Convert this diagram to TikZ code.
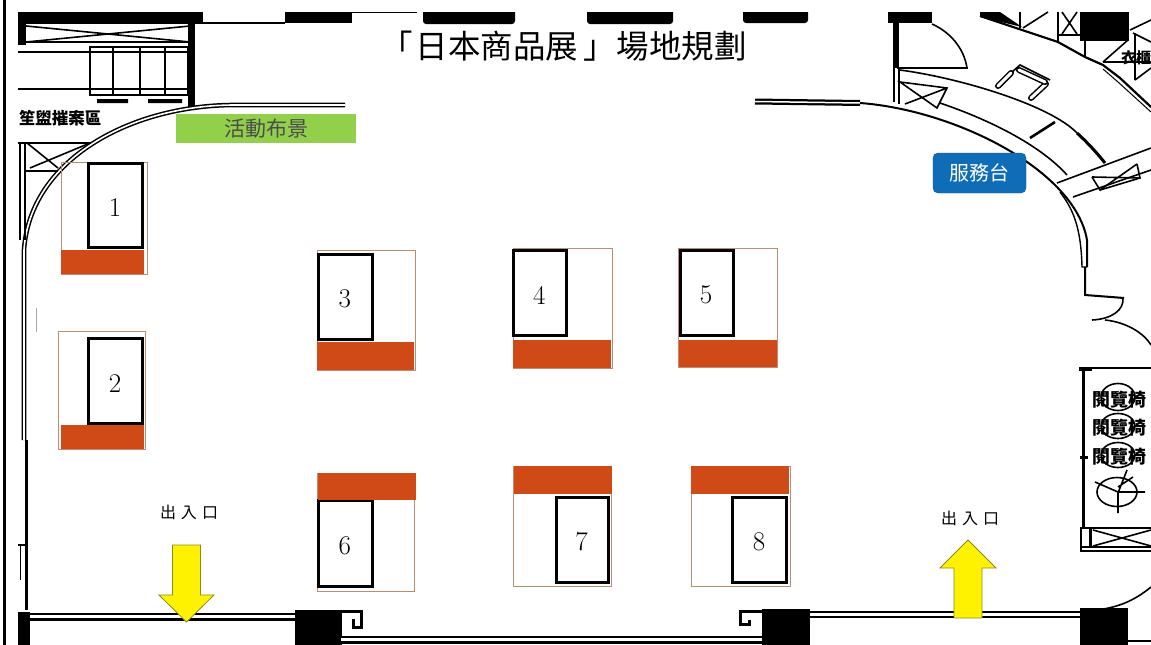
\documentclass[tikz,border=0pt]{standalone}
\usepackage{fontspec}
\newfontfamily\cjk{Noto Sans CJK TC}
\definecolor{boothred}{HTML}{D04A17}
\definecolor{boothline}{HTML}{C08B70}
\definecolor{stagegreen}{HTML}{92CF4B}
\definecolor{deskblue}{HTML}{0F6DB8}
\definecolor{arrowline}{HTML}{8C8C1E}
\tikzset{
  wall/.style={line width=1.6pt,black},
  thin wall/.style={line width=1pt,black},
  heavy/.style={line width=2.6pt,black},
  solid block/.style={fill=black,draw=none},
  booth/.style={draw=boothline,line width=0.9pt,fill=none},
  counter/.style={fill=boothred,draw=none},
  table box/.style={draw=black,line width=3pt},
  boothnum/.style={font=\fontsize{27}{27}\selectfont,inner sep=0pt,xshift=-0.5pt,yshift=-2.5pt},
  exitlabel/.style={font=\cjk\fontsize{16}{16}\selectfont,inner sep=0pt},
  exitarrow/.style={fill=yellow,draw=arrowline,line width=0.8pt},
  chairlabel/.style={font=\cjk\bfseries\fontsize{18}{18}\selectfont,inner sep=0pt},
}
\newcommand{\dbl}[1]{\draw[black,line width=4.6pt,line cap=butt] #1; \draw[white,line width=1.6pt,line cap=butt] #1;}
\newcommand{\dblw}[3]{\draw[black,line width=#1pt,line cap=butt] #3; \draw[white,line width=#2pt,line cap=butt] #3;}
\newcommand{\capsule}[1]{\draw[black,line width=6pt,line cap=round] #1; \draw[white,line width=3pt,line cap=round] #1;}
\newcommand{\booth}[9]{% outline x1 y1 x2 y2, table x1 y1 x2 y2, name
  \draw[booth] (#1,#2) rectangle (#3,#4);
  \draw[table box] (#5,#6) rectangle (#7,#8);
  \node[boothnum] (n#9) at ({(#5+#7)/2},{(#6+#8)/2}) {#9};
}
\begin{document}
\begin{tikzpicture}[x=1pt,y=-1pt]
\useasboundingbox (0,0) rectangle (1151,645);
\fill[white] (0,0) rectangle (1151,645);
% ---- top-left plan
\fill[solid block] (18,12) rectangle (203,24);
\fill[solid block] (18,12) rectangle (26,45);
\draw[wall] (26,42) -- (190,42);
\draw[wall] (26,26) -- (190,42) (26,42) -- (190,26);
\fill[solid block] (188,24) rectangle (195,108);
\draw[line width=2.2pt] (18,52) -- (190,52) (18,89) -- (190,89);
\draw[heavy] (90,47) rectangle (188,95) (113,47) -- (113,95) (140,47) -- (140,95) (165,47) -- (165,95);
\fill[solid block] (97,99) rectangle (128,103) (148,99) rectangle (182,103);
\draw[wall] (203,23) -- (285,23);
\fill[solid block] (285,12) rectangle (352,23);
\draw[thin wall] (352,12.5) -- (417,12.5);
\fill[solid block,rounded corners=3pt] (423,8) rectangle (515,24);
\fill[solid block,rounded corners=3pt] (587,8) rectangle (673,24);
\fill[solid block,rounded corners=3pt] (743,8) rectangle (808,23);
\fill[white] (0,0) rectangle (1151,12);
% ---- outer frame
\fill[black] (3,0) rectangle (6,645);
% ---- faded labels of the plan
\node[font=\cjk\bfseries\fontsize{16.5}{16.5}\selectfont,inner sep=0pt] (archive) at (60,118) {笙盥摧案區};
% ---- curved wall left
\dbl{(345,105) -- (235,105) .. controls (130,105) and (30,160) .. (24,250) -- (24,440)}
\draw[line width=3pt] (26.5,440) -- (26.5,610);
\draw[line width=2pt] (18,545) -- (27,545);
\draw[thin wall] (20.5,545) -- (20.5,580);
\draw[gray!70,line width=0.8pt] (36,308) -- (36,332);
% left X box
\draw[wall] (18,143) -- (91,143) (20,143) -- (20,240) (25,143) -- (25,240) (25,171) -- (58,171);
\draw[wall] (27,143) -- (58,168) (30,168) -- (90,143);
% ---- bottom walls
\dblw{8}{3}{(28,616.5) -- (295,616.5)}
\fill[solid block] (18,612) rectangle (30,645);
\fill[solid block] (295,610) rectangle (342,645);
\draw[line width=3pt] (341,611.5) -- (361.5,611.5) -- (361.5,627) -- (353,627) -- (353,619);
\dblw{8}{2.5}{(341,639.5) -- (762,639.5)}
\fill[solid block] (762,609) rectangle (810,645);
\draw[line width=3pt] (762,611.5) -- (740,611.5) -- (740,624.5) -- (749,624.5) -- (749,620);
\dblw{7}{3}{(810,614) -- (1080,614)}
\fill[solid block] (1080,608) rectangle (1128,645);
\draw[wall] (1128,641) -- (1151,641);
% ---- upper right: door, desk, curved walls
\fill[solid block] (888,12) rectangle (932,23);
\fill[solid block] (893,12) rectangle (899,68);
\draw[wall] (894,68) -- (894,102) (899,68) -- (899,104);
\draw[heavy] (897,68) -- (968,68);
\draw[wall] (932,24) .. controls (950,32) and (964,48) .. (967,68);
% main curved wall
\dblw{6}{1.5}{(755,101.5) -- (860,103)}
\draw[line width=2pt] (860,103) .. controls (955,110) and (1075,170) .. (1087,240) -- (1087,267);
\draw[line width=1.4pt] (1060,192) .. controls (1072,208) and (1081,225) .. (1082,267) -- (1087,267);
\draw[line width=2pt] (1085,267) -- (1085,295) -- (1124,298);
% desk lines
\draw[wall] (900,70) .. controls (960,78) and (1050,105) .. (1077,133);
\draw[wall] (940,103) .. controls (990,120) and (1040,145) .. (1067,175);
\draw[line width=3pt] (1077,133) .. controls (1087,142) and (1097,153) .. (1105,163);
\draw[line width=2.6pt] (1030,138) -- (1055,122);
% desk-left X box
\draw[wall] (900,82) -- (947,88) -- (937,108) -- cycle (947,88) -- (905,104);
% chair
\capsule{(998,86) -- (1011,73)}
\capsule{(1031,98) -- (1046,84)}
\capsule{(1019,70) -- (1045,82)}
\draw[wall] (1012,72) -- (1020,65) -- (1050,80);
% right-hand exit lines and X
\draw[wall] (1057,183) -- (1151,148) (1073,197) -- (1151,170);
\draw[wall] (1092,177) -- (1100,190) -- (1140,178) -- (1137,164);
\draw[wall] (1092,177) -- (1140,178) (1100,190) -- (1137,164);
% top right structures
\fill[solid block] (980,12) -- (1000,12) -- (1022,27) -- (980,17) -- cycle;
\draw[line width=2.2pt] (980,16) -- (1022,30) -- (1058,42) -- (1085,57) -- (1103,65) -- (1120,78) -- (1151,107);
\draw[thin wall] (1103,69) -- (1118,82) -- (1151,112);
\draw[wall] (1020,12) -- (1020,28) (1023,28) -- (1048,12);
\draw[wall] (1058,12) -- (1058,42) (1058,35) -- (1080,35) (1062,12) -- (1077,34) (1077,12) -- (1062,34);
\fill[solid block] (1080,12) rectangle (1129,41);
\draw[wall] (1085,41) -- (1085,57) (1103,62) -- (1128,40) (1103,62) -- (1151,62)
  (1135,33) -- (1135,80) (1130,30) -- (1151,20) (1133,33) -- (1151,42) (1135,80) -- (1151,68);
\node[font=\cjk\bfseries\fontsize{15}{15}\selectfont,inner sep=0pt] (closet) at (1136,58) {衣櫃};
% ---- right wall, bottom part
\draw[wall] (1123,298) .. controls (1124,310) and (1112,319) .. (1092,320);
\draw[wall] (1105,320) .. controls (1125,322) and (1143,332) .. (1151,345);
\draw[line width=2pt] (1080,368) -- (1151,368);
\draw[line width=2.6pt] (1083.5,369) -- (1083.5,527);
\fill[solid block] (1079,367) rectangle (1092,371);
\fill[solid block] (1080,456) rectangle (1088,459);
% service closet
\draw[wall] (1081,528) rectangle (1160,551);
\draw[line width=3pt] (1090,528) -- (1090,547);
\draw[wall] (1093,530) -- (1151,546) (1093,546) -- (1151,530);
\draw[line width=2pt] (1081,547) -- (1151,547);
\draw[wall] (1151,587) .. controls (1135,600) and (1120,607) .. (1097,610);
% chairs
\draw[wall] (1118,397) ellipse (17 and 13.5);
\draw[wall] (1118,426) ellipse (17 and 12.5);
\draw[wall] (1118,455) ellipse (17 and 12.5);
\node[chairlabel] (chaira) at (1119,400) {閱覽椅};
\node[chairlabel] (chairb) at (1119,428) {閱覽椅};
\node[chairlabel] (chairc) at (1119,457) {閱覽椅};
% plant
\draw[wall] (1117,492) ellipse (20 and 14.5);
\draw[wall] (1118,513) -- (1118,493) -- (1127,470) (1095,482) -- (1118,492) -- (1145,492) (1118,487) -- (1133,477);
% ---- booths
\booth{61}{162}{147}{274}{88.5}{163.5}{142.5}{247}{1}
\fill[counter] (61,250) rectangle (144,274);
\booth{58}{331}{145}{449}{88.5}{338.5}{142.5}{423}{2}
\fill[counter] (61,425) rectangle (144,449);
\booth{317}{250}{415}{370}{318.5}{254}{372}{339}{3}
\fill[counter] (317,342) rectangle (414,370);
\booth{513}{248}{612}{368}{513.5}{250.5}{566}{335}{4}
\fill[counter] (513,340) rectangle (611,368);
\booth{678}{248}{777}{367}{680}{250.5}{733}{335}{5}
\fill[counter] (679,340) rectangle (777,367);
\booth{317}{473}{414}{591}{318.5}{500}{372}{586}{6}
\fill[counter] (318,473) rectangle (416,500);
\booth{513}{466}{611}{586}{556}{497}{608}{582}{7}
\fill[counter] (514,466) rectangle (612,494);
\booth{691}{466}{790}{586}{732.5}{497}{786.5}{582}{8}
\fill[counter] (691,466) rectangle (789,494);
% ---- labels
\node[font=\cjk\fontsize{32.5}{32.5}\selectfont,inner sep=0pt,anchor=west,text=black] (title) at (380,46) {「\kern3pt日本商品展\kern5pt」\kern1pt場地規劃};
\node[fill=stagegreen,minimum width=180pt,minimum height=29pt,inner sep=0pt,text=black!70,font=\cjk\fontsize{21}{21}\selectfont] (stage) at (266,128.5) {活動布景};
\node[fill=deskblue,draw=deskblue!80!black,rounded corners=5pt,minimum width=93pt,minimum height=40pt,inner sep=0pt,text=white,font=\cjk\fontsize{20}{20}\selectfont] (desk) at (979.5,173) {服務台};
\node[exitlabel] (exitA) at (189,512) {出\kern5pt入\kern5pt口};
\node[exitlabel] (exitB) at (970,518) {出\kern5pt入\kern5pt口};
% ---- arrows
\draw[exitarrow] (172.5,545) -- (200.5,545) -- (200.5,595) -- (214,595) -- (186.5,622) -- (159,595) -- (172.5,595) -- cycle;
\draw[exitarrow] (954,618) -- (982,618) -- (982,568) -- (996,568) -- (968,540) -- (940,568) -- (954,568) -- cycle;
\end{tikzpicture}
\end{document}
